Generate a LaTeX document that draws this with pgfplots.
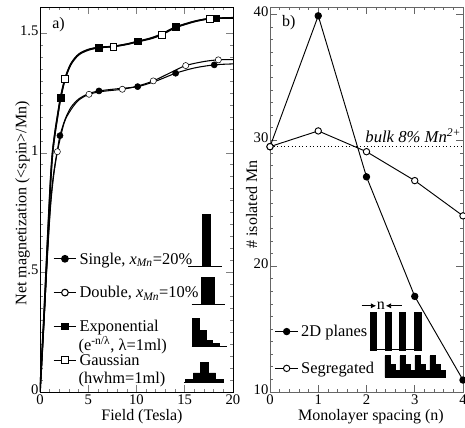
\documentclass[border=0pt]{standalone}
\usepackage{fontspec}
\setmainfont{Liberation Serif}
\usepackage{pgfplots}
\pgfplotsset{compat=1.18}
\usetikzlibrary{arrows.meta}

\begin{document}
\fontsize{12}{14}\selectfont
\begin{tikzpicture}
\path[use as bounding box] (-30pt,-27pt) rectangle (318.75pt,294pt);
\pgfplotsset{
  common/.style={
    scale only axis, width=144.75pt, height=288.75pt,
    tick align=inside,
    axis line style={line width=0.6pt},
    major tick length=5pt, minor tick length=2.5pt,
    every tick/.append style={line width=0.5pt},
    tick label style={font=\fontsize{11}{12}\selectfont},
    /pgf/number format/assume math mode=true,
    yticklabel style={inner sep=1pt, yshift=2pt},
    xticklabel style={inner sep=2pt},
    label style={font=\fontsize{12}{14}\selectfont},
    xlabel style={anchor=north, inner sep=0pt},
    ylabel style={anchor=center, inner sep=0pt},
    legend cell align=left,
  }
}
% ---------------- a) ----------------
\begin{axis}[common,
  at={(0pt,0pt)}, anchor=south west,
  xmin=0, xmax=20, ymin=0, ymax=1.61,
  xtick={0,5,10,15,20}, minor x tick num=4,
  ytick={0,0.5,1,1.5}, yticklabels={0,.5,1,1.5}, minor y tick num=9,
  xlabel={Field (Tesla)},
  ylabel={Net magnetization (<spin>/Mn)},
  xlabel style={at={(axis description cs:0.528,0)}, yshift=-12.5pt},
  ylabel style={at={(axis description cs:-0.091,0.49)}},
  legend style={draw=none, fill=none, inner sep=0pt, outer sep=0pt,
    at={(axis cs:1.35,0.345)}, anchor=west, row sep=11.75pt, column sep=1pt,
    font=\fontsize{12.3}{14}\selectfont, nodes={inner sep=1pt}},
]
% upper curves (exponential, gaussian)
\addplot[black, line width=1.2pt, smooth, forget plot] coordinates {
 (0,0) (0.4,0.3) (0.8,0.64) (1.1,0.88) (1.3,1.0) (1.55,1.08) (1.8,1.147)
 (2.14,1.23) (2.6,1.31) (3.2,1.37) (4,1.41) (5,1.43) (6.11,1.44) (7.6,1.445)
 (9,1.455) (10.12,1.466) (11.5,1.48) (12.6,1.497) (14.06,1.526) (16,1.55)
 (17.6,1.562) (18.24,1.563) (20,1.564)};
\addplot[black, line width=1.2pt, smooth, forget plot] coordinates {
 (0,0) (0.4,0.31) (0.8,0.65) (1.1,0.89) (1.3,1.0) (1.55,1.085) (1.8,1.15)
 (2.14,1.232) (2.6,1.31) (3.2,1.372) (4,1.412) (5,1.432) (6.11,1.441) (7.6,1.445)
 (9,1.454) (10.12,1.465) (11.5,1.478) (12.6,1.494) (14.06,1.524) (16,1.549)
 (17.6,1.562) (18.24,1.563) (20,1.565)};
% lower curves (single, double)
\addplot[black, line width=0.8pt, smooth, forget plot] coordinates {
 (0,0) (0.4,0.29) (0.8,0.6) (1.1,0.79) (1.4,0.91) (1.8,1.01) (2.07,1.072)
 (2.6,1.14) (3.2,1.19) (4,1.225) (5,1.247) (6.11,1.259) (8,1.268) (10.12,1.277)
 (12,1.3) (14.06,1.333) (16,1.355) (18.06,1.368) (20,1.372)};
\addplot[black, line width=0.8pt, smooth, forget plot] coordinates {
 (0,0) (0.4,0.29) (0.8,0.59) (1.1,0.78) (1.4,0.9) (1.8,1.005) (2.5,1.125)
 (3.2,1.18) (4,1.22) (5.08,1.245) (6.5,1.257) (8.53,1.266) (10,1.278)
 (11.74,1.301) (13.5,1.335) (15.1,1.365) (17,1.382) (18.48,1.389) (20,1.39)};
% markers
\addplot[only marks, mark=square*, mark size=2.5pt, black, forget plot] coordinates {
 (2.14,1.23) (6.11,1.44) (10.12,1.466) (14.06,1.526) (18.24,1.563)};
\addplot[only marks, mark=square*, mark size=2.5pt, mark options={fill=white, draw=black}, forget plot] coordinates {
 (2.6,1.31) (7.6,1.445) (12.6,1.494) (17.6,1.562)};
\addplot[only marks, mark=*, mark size=2.3pt, black, forget plot] coordinates {
 (2.07,1.072) (6.11,1.259) (10.12,1.277) (14.06,1.333) (18.06,1.368)};
\addplot[only marks, mark=*, mark size=2.3pt, mark options={fill=white, draw=black}, forget plot] coordinates {
 (1.8,1.005) (5.08,1.245) (8.53,1.266) (11.74,1.301) (15.1,1.365) (18.48,1.389)};
% legend
\addlegendimage{black, line width=0.8pt, mark=*, mark size=2.5pt}
\addlegendentry{\strut Single, \textit{x}\textsubscript{\textit{Mn}}=20\%}
\addlegendimage{black, line width=0.8pt, mark=*, mark size=2.5pt, mark options={fill=white}}
\addlegendentry{\strut Double, \textit{x}\textsubscript{\textit{Mn}}=10\%}
\addlegendimage{black, line width=0.8pt, mark=square*, mark size=2.5pt}
\addlegendentry{\strut Exponential}
\addlegendimage{black, line width=0.8pt, mark=square*, mark size=2.5pt, mark options={fill=white}}
\addlegendentry{\strut Gaussian}
\node[anchor=west, inner sep=0pt, font=\fontsize{12.3}{14}\selectfont] at (axis cs:3.98,0.196) {(e\textsuperscript{-n/λ}, λ=1ml)};
\node[anchor=west, inner sep=0pt, font=\fontsize{12.3}{14}\selectfont] at (axis cs:3.98,0.05) {(hwhm=1ml)};
% insets
\addplot[black, line width=0.5pt, forget plot] coordinates {(15.37,0.526) (18.83,0.526)};
\addplot[fill=black, draw=black, forget plot] coordinates {(16.86,0.526) (16.86,0.742) (17.62,0.742) (17.62,0.526)} -- cycle;
\addplot[black, line width=0.5pt, forget plot] coordinates {(15.72,0.367) (19.17,0.367)};
\addplot[fill=black, draw=black, forget plot] coordinates {(16.75,0.367) (16.75,0.478) (18.06,0.478) (18.06,0.367)} -- cycle;
\addplot[black, line width=0.5pt, forget plot] coordinates {(15.72,0.193) (19.35,0.193)};
\addplot[fill=black, draw=black, forget plot] coordinates {(15.82,0.193) (15.82,0.307) (16.51,0.307) (16.51,0.258) (17.2,0.258) (17.2,0.217) (17.9,0.217) (17.9,0.203) (18.58,0.203) (18.58,0.193)} -- cycle;
\addplot[black, line width=0.5pt, forget plot] coordinates {(14.9,0.040) (19.0,0.040)};
\addplot[fill=black, draw=black, forget plot] coordinates {(15.03,0.040) (15.03,0.053) (15.89,0.053) (15.89,0.080) (16.65,0.080) (16.65,0.124) (17.44,0.124) (17.44,0.080) (18.2,0.080) (18.2,0.053) (19.0,0.053) (19.0,0.040)} -- cycle;
\node[font=\fontsize{12}{14}\selectfont] at (axis cs:1.92,1.535) {a)};
\end{axis}
% ---------------- b) ----------------
\begin{axis}[common,
  at={(172.5pt,0pt)}, anchor=south west,
  xmin=0, xmax=4, ymin=10, ymax=40.6,
  axis line style={black!60}, every tick/.append style={black!60},
  xtick={0,1,2,3,4}, minor x tick num=4,
  ytick={10,20,30,40}, minor y tick num=9,
  xlabel={Monolayer spacing (n)},
  ylabel={\# isolated Mn},
  xlabel style={at={(axis description cs:0.523,0)}, yshift=-12.5pt},
  ylabel style={at={(axis description cs:-0.095,0.487)}},
  legend style={draw=none, fill=none, inner sep=0pt, outer sep=0pt,
    at={(axis cs:0.1,13.34)}, anchor=west, row sep=14pt, column sep=1pt,
    font=\fontsize{12.3}{14}\selectfont, nodes={inner sep=1pt}},
]
\addplot[black, line width=0.7pt, dotted, forget plot] coordinates {(0,29.5) (4,29.5)};
\addplot[black, line width=0.7pt, mark=*, mark size=2.4pt] coordinates {
 (0,29.5) (1,39.9) (2,27.1) (3,17.6) (4,10.95)};
\addlegendentry{\strut 2D planes}
\addplot[black, line width=0.7pt, mark=*, mark size=2.4pt, mark options={fill=white}] coordinates {
 (0,29.5) (1,30.75) (2,29.1) (3,26.8) (4,24.0)};
\addlegendentry{\strut Segregated}
\node[anchor=base east, inner sep=0pt, font=\itshape\fontsize{12.5}{14}\selectfont] at (axis cs:3.97,29.85) {bulk 8\% Mn\textsuperscript{2+}};
\node[font=\fontsize{12}{14}\selectfont] at (axis cs:0.39,39.37) {b)};
% insets
\addplot[black, line width=0.6pt, forget plot] coordinates {(2.07,13.35) (3.13,13.35)};
\addplot[fill=black, draw=black, forget plot] coordinates {(2.07,13.35) (2.07,16.3) (2.2,16.3) (2.2,13.35)} -- cycle;
\addplot[fill=black, draw=black, forget plot] coordinates {(2.38,13.35) (2.38,16.3) (2.51,16.3) (2.51,13.35)} -- cycle;
\addplot[fill=black, draw=black, forget plot] coordinates {(2.67,13.35) (2.67,16.3) (2.8,16.3) (2.8,13.35)} -- cycle;
\addplot[fill=black, draw=black, forget plot] coordinates {(3.0,13.35) (3.0,16.3) (3.13,16.3) (3.13,13.35)} -- cycle;
\draw[-{Latex[length=4pt,width=4pt]}, line width=0.6pt] (axis cs:1.9,16.85) -- (axis cs:2.2,16.85);
\draw[-{Latex[length=4pt,width=4pt]}, line width=0.6pt] (axis cs:2.73,16.85) -- (axis cs:2.4,16.85);
\node[font=\fontsize{12}{14}\selectfont, inner sep=0pt] at (axis cs:2.3,16.85) {n};
\addplot[fill=black, draw=black, forget plot] coordinates {
 (2.383,11.17) (2.383,12.88) (2.487,12.88) (2.487,12.22) (2.590,12.22) (2.590,11.69)
 (2.694,11.69) (2.694,12.88) (2.798,12.88) (2.798,12.22) (2.901,12.22) (2.901,11.69)
 (3.005,11.69) (3.005,12.88) (3.109,12.88) (3.109,12.22) (3.212,12.22) (3.212,11.69)
 (3.316,11.69) (3.316,12.88) (3.420,12.88) (3.420,12.22) (3.523,12.22) (3.523,11.69)
 (3.627,11.69) (3.627,11.17)} -- cycle;
\end{axis}
\end{tikzpicture}
\end{document}
